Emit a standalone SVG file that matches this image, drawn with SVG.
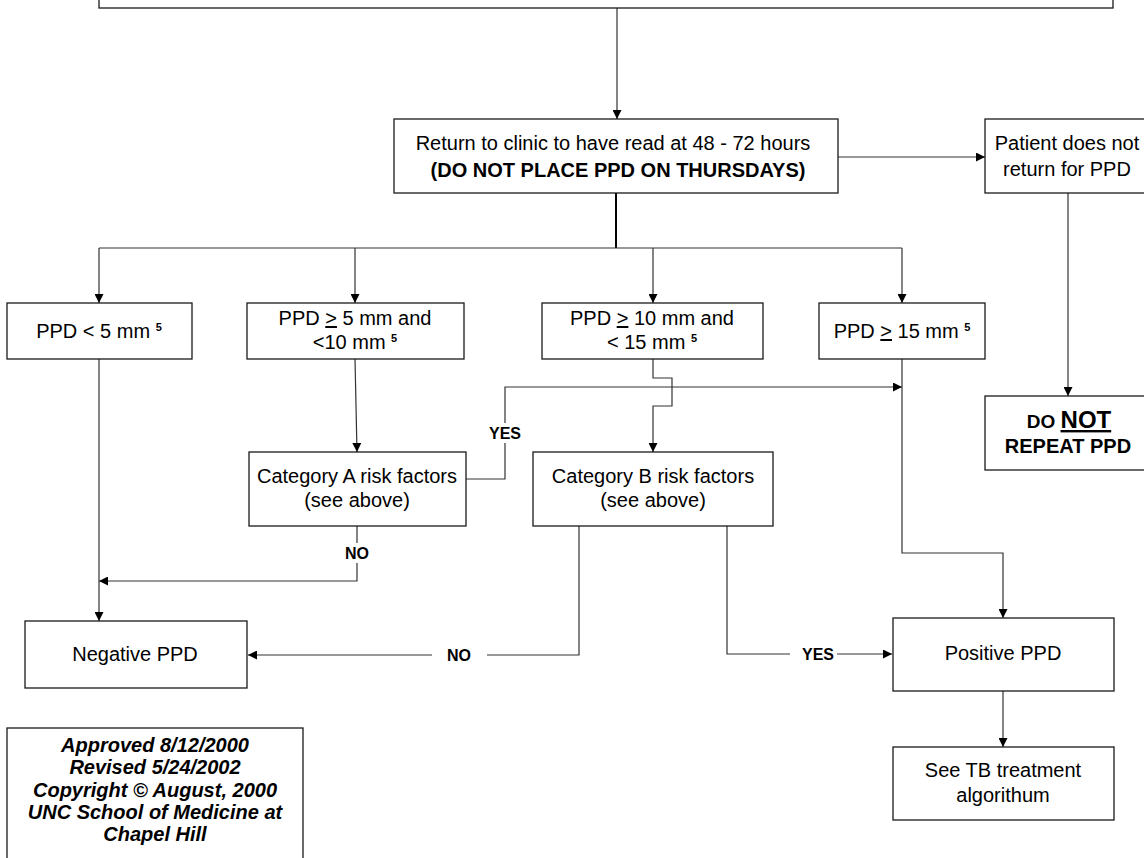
<svg xmlns="http://www.w3.org/2000/svg" width="1144" height="858" viewBox="0 0 1144 858">
<style>
.box{fill:#fff;stroke:#1a1a1a;stroke-width:1.3}
.ln{fill:none;stroke:#333;stroke-width:1.2}
.thick{fill:none;stroke:#000;stroke-width:2}
.t{font-family:"Liberation Sans",Arial,sans-serif;font-size:20px;fill:#000;text-anchor:middle}
.b{font-weight:bold}
.sup{font-size:11px;font-weight:bold}
.lbl{font-family:"Liberation Sans",Arial,sans-serif;font-size:16px;font-weight:bold;fill:#000;text-anchor:middle}
.bi{font-family:"Liberation Sans",Arial,sans-serif;font-size:20px;font-weight:bold;font-style:italic;fill:#000;text-anchor:middle}
.bg{fill:#fff;stroke:none}
</style>
<defs>
<marker id="ah" viewBox="0 0 10 10" refX="10" refY="5" markerWidth="10" markerHeight="9" markerUnits="userSpaceOnUse" orient="auto">
<path d="M0,0 L10,5 L0,10 z" fill="#000"/>
</marker>
</defs>
<rect width="1144" height="858" fill="#fff"/>

<g id="connectors">
<path class="ln" d="M617,8 V119" marker-end="url(#ah)"/>
<path class="ln" d="M838,157 H985" marker-end="url(#ah)"/>
<path class="thick" d="M616,193 V248"/>
<path class="ln" d="M99,248 H902"/>
<path class="ln" d="M99,248 V303" marker-end="url(#ah)"/>
<path class="ln" d="M355,248 V303" marker-end="url(#ah)"/>
<path class="ln" d="M653,248 V303" marker-end="url(#ah)"/>
<path class="ln" d="M902,248 V303" marker-end="url(#ah)"/>
<path class="ln" d="M355,359 L357,452" marker-end="url(#ah)"/>
<path class="ln" d="M653,359 V378 H672 V406 H653 V452" marker-end="url(#ah)"/>
<path class="ln" d="M466,479 H505 V387 H902" marker-end="url(#ah)"/>
<path class="ln" d="M357,526 V581 H99" marker-end="url(#ah)"/>
<path class="ln" d="M99,359 V621" marker-end="url(#ah)"/>
<path class="ln" d="M579,526 V655 H248" marker-end="url(#ah)"/>
<path class="ln" d="M727,526 V654 H892" marker-end="url(#ah)"/>
<path class="ln" d="M902,359 V553 H1003 V618" marker-end="url(#ah)"/>
<path class="ln" d="M1003,691 V747" marker-end="url(#ah)"/>
<path class="ln" d="M1068,193 V396" marker-end="url(#ah)"/>
<rect class="bg" x="489" y="423" width="32" height="20"/>
<text class="lbl" x="505" y="439">YES</text>
<rect class="bg" x="345" y="543" width="24" height="20"/>
<text class="lbl" x="357" y="559">NO</text>
<rect class="bg" x="432" y="645" width="55" height="20"/>
<text class="lbl" x="459" y="661">NO</text>
<rect class="bg" x="790" y="644" width="47" height="20"/>
<text class="lbl" x="818" y="660">YES</text>
</g>

<g id="top-box">
<rect class="box" x="99" y="-10" width="1014" height="18"/>
</g>

<g id="return-clinic">
<rect class="box" x="394" y="119" width="444" height="74"/>
<text class="t" x="613" y="150">Return to clinic to have read at 48 - 72 hours</text>
<text class="t b" x="618" y="177">(DO NOT PLACE PPD ON THURSDAYS)</text>
</g>

<g id="patient-no-return">
<rect class="box" x="985" y="119" width="166" height="74"/>
<text class="t" x="1067" y="150">Patient does not</text>
<text class="t" x="1067" y="176">return for PPD</text>
</g>

<g id="ppd-lt5">
<rect class="box" x="7" y="303" width="185" height="56"/>
<text class="t" x="99" y="338">PPD &lt; 5 mm <tspan class="sup" dy="-7">5</tspan></text>
</g>

<g id="ppd-5-10">
<rect class="box" x="247" y="303" width="217" height="56"/>
<text class="t" x="355" y="325">PPD <tspan text-decoration="underline">&gt;</tspan> 5 mm and</text>
<text class="t" x="355" y="349">&lt;10 mm <tspan class="sup" dy="-7">5</tspan></text>
</g>

<g id="ppd-10-15">
<rect class="box" x="542" y="303" width="221" height="56"/>
<text class="t" x="652" y="325">PPD <tspan text-decoration="underline">&gt;</tspan> 10 mm and</text>
<text class="t" x="652" y="349">&lt; 15 mm <tspan class="sup" dy="-7">5</tspan></text>
</g>

<g id="ppd-ge15">
<rect class="box" x="819" y="303" width="166" height="56"/>
<text class="t" x="902" y="338">PPD <tspan text-decoration="underline">&gt;</tspan> 15 mm <tspan class="sup" dy="-7">5</tspan></text>
</g>

<g id="do-not-repeat">
<rect class="box" x="985" y="396" width="166" height="74"/>
<text class="t b" x="1069" y="428"><tspan style="font-size:19px">DO </tspan><tspan style="font-size:24px" text-decoration="underline">NOT</tspan></text>
<text class="t b" x="1068" y="453">REPEAT PPD</text>
</g>

<g id="category-a">
<rect class="box" x="249" y="452" width="217" height="74"/>
<text class="t" x="357" y="483">Category A risk factors</text>
<text class="t" x="357" y="507">(see above)</text>
</g>

<g id="category-b">
<rect class="box" x="533" y="452" width="240" height="74"/>
<text class="t" x="653" y="483">Category B risk factors</text>
<text class="t" x="653" y="507">(see above)</text>
</g>

<g id="negative-ppd">
<rect class="box" x="25" y="621" width="222" height="67"/>
<text class="t" x="135" y="661">Negative PPD</text>
</g>

<g id="positive-ppd">
<rect class="box" x="893" y="618" width="221" height="73"/>
<text class="t" x="1003" y="660">Positive PPD</text>
</g>

<g id="see-tb">
<rect class="box" x="893" y="747" width="221" height="73"/>
<text class="t" x="1003" y="777">See TB treatment</text>
<text class="t" x="1003" y="802">algorithum</text>
</g>

<g id="approval">
<rect class="box" x="7" y="728" width="296" height="140"/>
<text class="bi" x="155" y="752">Approved 8/12/2000</text>
<text class="bi" x="155" y="774">Revised 5/24/2002</text>
<text class="bi" x="155" y="797">Copyright © August, 2000</text>
<text class="bi" x="155" y="819">UNC School of Medicine at</text>
<text class="bi" x="155" y="841">Chapel Hill</text>
</g>
</svg>
